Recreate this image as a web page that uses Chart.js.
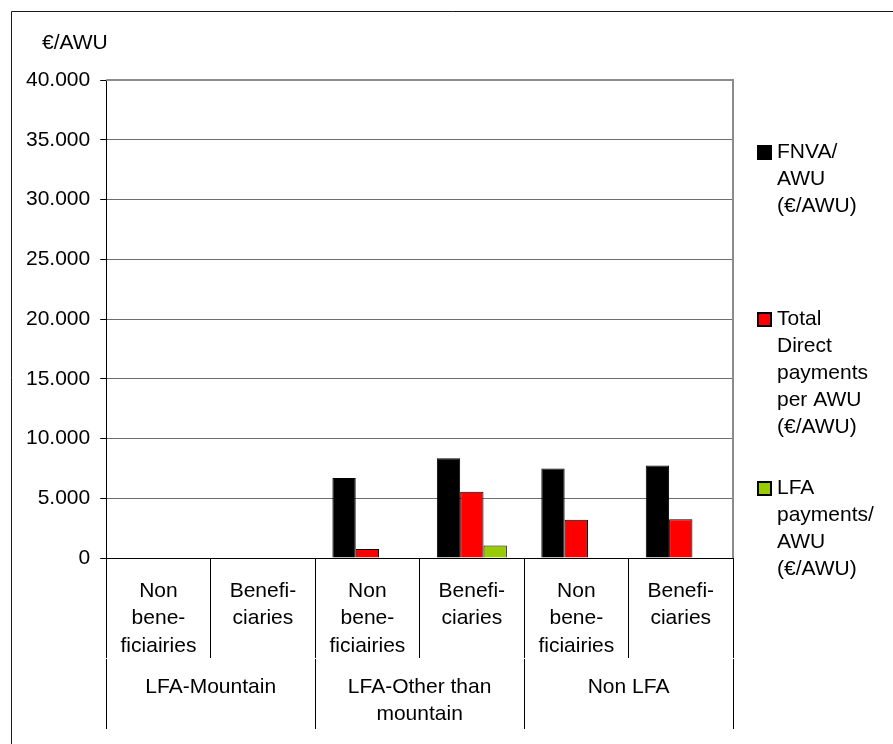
<!DOCTYPE html>
<html>
<head>
<meta charset="utf-8">
<script src="https://cdn.jsdelivr.net/npm/chart.js@4.4.1/dist/chart.umd.min.js"></script>
<style>
html, body { margin: 0; padding: 0; background: #ffffff; }
#wrap { width: 893px; height: 744px; position: relative; }
canvas { display: block; }
</style>
</head>
<body>
<div id="wrap"><canvas id="chart" width="893" height="744"></canvas></div>
<script>
// ---- data ----
const categories = [
  ["Non", "bene-", "ficiairies"], ["Benefi-", "ciaries"],
  ["Non", "bene-", "ficiairies"], ["Benefi-", "ciaries"],
  ["Non", "bene-", "ficiairies"], ["Benefi-", "ciaries"]
];
const groups = ["LFA-Mountain", ["LFA-Other than", "mountain"], "Non LFA"];
const seriesNames = [
  ["FNVA/", "AWU", "(€/AWU)"],
  ["Total", "Direct", "payments", "per AWU", "(€/AWU)"],
  ["LFA", "payments/", "AWU", "(€/AWU)"]
];
const fnvaPerAwu = [null, null, 6700, 8350, 7500, 7750];
const directPaymentsPerAwu = [null, null, 750, 5550, 3200, 3250];
const lfaPaymentsPerAwu = [null, null, null, 1050, null, null];
const yTicks = [0, 5000, 10000, 15000, 20000, 25000, 30000, 35000, 40000];
const unitLabel = "€/AWU";

// ---- styling ----
const FONT = '"Liberation Sans", Arial, sans-serif';
Chart.defaults.font.family = FONT;
Chart.defaults.font.size = 21;
Chart.defaults.color = '#000000';

const seriesColors = ['#000000', '#FF0000', '#99CC00'];

function fmtThousands(v) {
  return String(v).replace(/\B(?=(\d{3})+(?!\d))/g, '.');
}

const decorPlugin = {
  id: 'decor',
  beforeDraw(chart) {
    const ctx = chart.ctx;
    ctx.save();
    ctx.fillStyle = '#ffffff';
    ctx.fillRect(0, 0, chart.width, chart.height);
    ctx.restore();
  },
  afterDraw(chart) {
    const ctx = chart.ctx;
    const a = chart.chartArea;
    ctx.save();
    // outer frame (left and top edges visible)
    ctx.strokeStyle = '#1a1a1a';
    ctx.lineWidth = 1;
    ctx.beginPath();
    ctx.moveTo(11.5, chart.height);
    ctx.lineTo(11.5, 11.5);
    ctx.lineTo(chart.width, 11.5);
    ctx.stroke();
    // plot area border top/right
    ctx.strokeStyle = '#8c8c8c';
    ctx.lineWidth = 2;
    ctx.beginPath();
    ctx.moveTo(a.left, a.top);
    ctx.lineTo(a.right, a.top);
    ctx.lineTo(a.right, a.bottom);
    ctx.stroke();
    // unit label
    ctx.fillStyle = '#000';
    ctx.font = '21px ' + FONT;
    ctx.textAlign = 'left';
    ctx.textBaseline = 'middle';
    ctx.fillText(unitLabel, 42, 43);
    // legend
    const boxX = 757, textX = 777, lineH = 27;
    const firstLineY = [152, 319, 488];
    chart.data.datasets.forEach((ds, i) => {
      const y0 = firstLineY[i];
      ctx.fillStyle = ds.backgroundColor;
      ctx.fillRect(boxX, y0 - 7, 15, 15);
      ctx.strokeStyle = '#000';
      ctx.lineWidth = 2;
      ctx.strokeRect(boxX + 1, y0 - 6, 13, 13);
      ctx.fillStyle = '#000';
      const lines = Array.isArray(ds.label) ? ds.label : [ds.label];
      lines.forEach((t, k) => ctx.fillText(t, textX, y0 + k * lineH));
    });
    ctx.restore();
  }
};

const mkDataset = (label, data, color) => ({
  label, data,
  backgroundColor: color,
  borderColor: '#000000',
  borderWidth: 1,
  categoryPercentage: 0.67,
  barPercentage: 1.0
});

new Chart(document.getElementById('chart'), {
  type: 'bar',
  data: {
    labels: categories,
    datasets: [
      mkDataset(seriesNames[0], fnvaPerAwu, seriesColors[0]),
      mkDataset(seriesNames[1], directPaymentsPerAwu, seriesColors[1]),
      mkDataset(seriesNames[2], lfaPaymentsPerAwu, seriesColors[2])
    ]
  },
  options: {
    responsive: false,
    animation: false,
    devicePixelRatio: 1,
    layout: { padding: { left: 16, right: 160, top: 80, bottom: 16 } },
    plugins: {
      legend: { display: false },
      tooltip: { enabled: false },
      title: { display: false }
    },
    scales: {
      y: {
        min: 0, max: 40000,
        afterBuildTicks: s => { s.ticks = yTicks.map(v => ({ value: v })); },
        ticks: {
          padding: 10,
          color: '#000',
          font: { size: 21 },
          callback: v => fmtThousands(v)
        },
        grid: { color: '#6e6e6e', lineWidth: 1, tickLength: 6, tickColor: '#000' },
        border: { color: '#000', width: 1 }
      },
      x: {
        position: 'bottom',
        weight: 0,
        grid: { offset: true, drawOnChartArea: false, tickLength: 100, tickColor: '#000', lineWidth: 1 },
        border: { color: '#000', width: 1 },
        ticks: {
          padding: -80,
          maxRotation: 0, minRotation: 0, autoSkip: false,
          color: '#000',
          font: { size: 21, lineHeight: 1.29 }
        },
        afterFit: s => { s.height = 101; }
      },
      x2: {
        type: 'category',
        labels: groups,
        position: 'bottom',
        weight: 1,
        offset: true,
        grid: { offset: true, drawOnChartArea: false, tickLength: 70, tickColor: '#000', lineWidth: 1 },
        border: { display: false },
        ticks: {
          padding: -55,
          maxRotation: 0, minRotation: 0, autoSkip: false,
          color: '#000',
          font: { size: 21, lineHeight: 1.29 }
        },
        afterFit: s => { s.height = 69; }
      }
    }
  },
  plugins: [decorPlugin]
});
</script>
</body>
</html>
